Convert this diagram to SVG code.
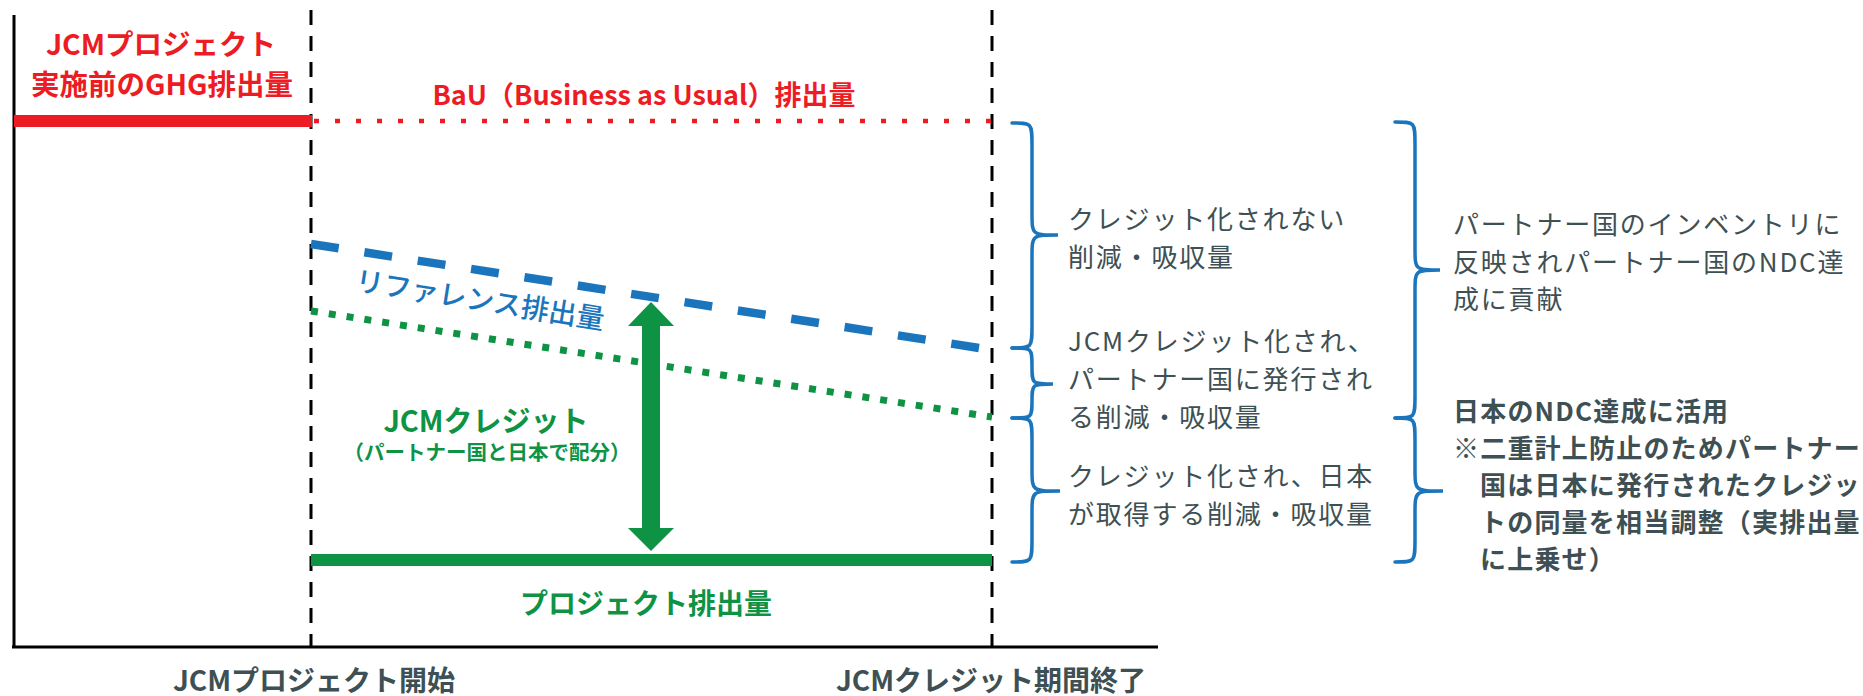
<svg xmlns="http://www.w3.org/2000/svg" width="1863" height="696" viewBox="0 0 1863 696">
<style>
text{font-family:"Noto Sans CJK JP","Noto Sans",sans-serif;}
.red{fill:#ED1C24;font-weight:700;}
.grn{fill:#0E9345;font-weight:700;}
.blu{fill:#1B75BC;font-weight:500;}
.gry{fill:#3E5053;font-size:26px;letter-spacing:1.8px;}
.gryb{fill:#3E5053;font-size:26px;font-weight:700;letter-spacing:1.2px;}
.axl{fill:#3E5053;font-size:28px;font-weight:700;}
.brace{fill:none;stroke:#1B75BC;stroke-width:3.5;stroke-linecap:round;}
.vdash{stroke:#000;stroke-width:3;stroke-dasharray:15 11;fill:none;}
.axis{stroke:#000;stroke-width:3;fill:none;}
</style>
<rect width="1863" height="696" fill="#fff"/>

<g id="axes">
<line class="axis" x1="14" y1="15" x2="14" y2="648"/>
<line class="axis" x1="12" y1="647" x2="1158" y2="647"/>
<line class="vdash" x1="311" y1="10" x2="311" y2="647"/>
<line class="vdash" x1="992" y1="10" x2="992" y2="647"/>
</g>

<g id="connectors">
<line x1="14" y1="121" x2="312" y2="121" stroke="#ED1C24" stroke-width="12"/>
<line x1="314" y1="121" x2="992" y2="121" stroke="#ED1C24" stroke-width="4.5" stroke-dasharray="5 16"/>
<line x1="311" y1="244" x2="992" y2="350" stroke="#1B75BC" stroke-width="8.5" stroke-dasharray="28 26"/>
<line x1="311" y1="311" x2="992" y2="417" stroke="#0E9345" stroke-width="7" stroke-dasharray="7 11"/>
<line x1="311" y1="560" x2="992" y2="560" stroke="#0E9345" stroke-width="12"/>
<polygon id="credit-arrow" fill="#0E9345" points="651,302 674,326 660,326 660,528 674,528 651,551 628,528 642,528 642,326 628,326"/>
</g>

<g id="braces">
<path class="brace" d="M1012,123 C1032,123 1032,123 1032,145 L1032,213 C1032,235 1032,235 1058,235 C1032,235 1032,235 1032,257 L1032,326 C1032,348 1032,348 1012,348"/>
<path class="brace" d="M1012,348 C1032,348 1032,348 1032,366 L1032,367 C1032,384 1032,384 1053,384 C1032,384 1032,384 1032,401 L1032,401 C1032,418 1032,418 1012,418"/>
<path class="brace" d="M1012,418 C1032,418 1032,418 1032,440 L1032,469 C1032,491 1032,491 1060,491 C1032,491 1032,491 1032,513 L1032,540 C1032,562 1032,562 1012,562"/>
<path class="brace" d="M1395,122 C1415,122 1415,122 1415,144 L1415,248 C1415,270 1415,270 1440,270 C1415,270 1415,270 1415,292 L1415,396 C1415,418 1415,418 1395,418"/>
<path class="brace" d="M1395,418 C1415,418 1415,418 1415,440 L1415,469 C1415,491 1415,491 1443,491 C1415,491 1415,491 1415,513 L1415,540 C1415,562 1415,562 1395,562"/>
</g>

<g id="pre-project">
<text class="red" x="161" y="55" font-size="28.5" text-anchor="middle">JCMプロジェクト</text>
<text class="red" x="162" y="95" font-size="28.5" text-anchor="middle">実施前のGHG排出量</text>
</g>

<g id="bau">
<text x="644" y="105" font-size="27" text-anchor="middle" fill="#ED1C24" font-weight="700">BaU（Business as Usual）排出量</text>
</g>

<g id="reference">
<text class="blu" x="480" y="310" font-size="28" text-anchor="middle" transform="rotate(9 480 300)">リファレンス排出量</text>
</g>

<g id="jcm-credit">
<text class="grn" text-anchor="middle"><tspan x="486" y="432" font-size="29">JCMクレジット</tspan><tspan x="487" y="460" font-size="20.5">（パートナー国と日本で配分）</tspan></text>
</g>

<g id="project">
<text class="grn" x="646" y="614" font-size="28" text-anchor="middle">プロジェクト排出量</text>
</g>

<g id="not-credited">
<text class="gry" x="1068" y="229">クレジット化されない</text>
<text class="gry" x="1068" y="267">削減・吸収量</text>
</g>

<g id="partner-issued">
<text class="gry" x="1068" y="351">JCMクレジット化され、</text>
<text class="gry" x="1068" y="389">パートナー国に発行され</text>
<text class="gry" x="1068" y="427">る削減・吸収量</text>
</g>

<g id="japan-acquired">
<text class="gry" x="1068" y="486">クレジット化され、日本</text>
<text class="gry" x="1068" y="524">が取得する削減・吸収量</text>
</g>

<g id="partner-ndc">
<text class="gry" x="1453" y="234">パートナー国のインベントリに</text>
<text class="gry" x="1453" y="272">反映されパートナー国のNDC達</text>
<text class="gry" x="1453" y="309">成に貢献</text>
</g>

<g id="japan-ndc">
<text class="gryb" x="1453" y="421">日本のNDC達成に活用</text>
<text class="gryb" x="1453" y="458">※二重計上防止のためパートナー</text>
<text class="gryb" x="1480" y="495">国は日本に発行されたクレジッ</text>
<text class="gryb" x="1480" y="532">トの同量を相当調整（実排出量</text>
<text class="gryb" x="1480" y="569">に上乗せ）</text>
</g>

<g id="axis-labels">
<text class="axl" x="314" y="691" text-anchor="middle">JCMプロジェクト開始</text>
<text class="axl" x="991" y="691" text-anchor="middle">JCMクレジット期間終了</text>
</g>
</svg>
